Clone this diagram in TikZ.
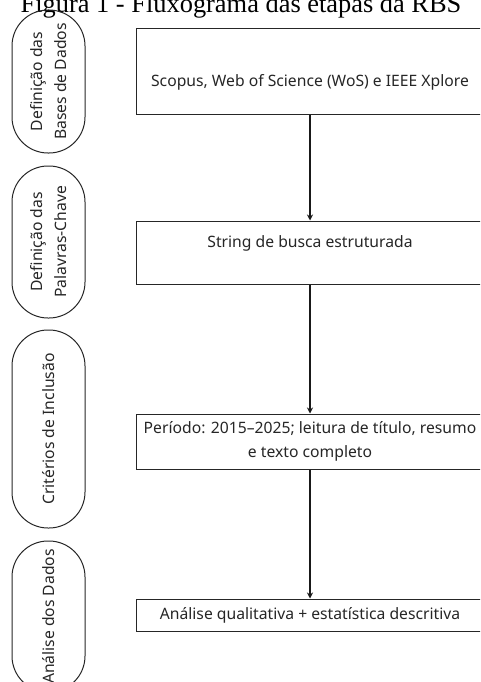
\documentclass[tikz,border=0pt]{standalone}
\usepackage{fontspec}
\setmainfont{Liberation Serif}
\newfontfamily\nsans{Noto Sans}
\usetikzlibrary{arrows.meta}

\tikzset{
  etapa/.style={draw=black!85, line width=1pt, rotate=90, minimum height=73pt,
    rounded corners=36pt, inner sep=0pt, align=center,
    font=\nsans\fontsize{15.7}{23.5}\selectfont, text=black!85},
  caixa/.style={draw=black!85, line width=1pt, minimum width=348pt, inner sep=0pt,
    align=center, font=\nsans\fontsize{15.7}{23.5}\selectfont, text=black!85},
  seta/.style={-{Stealth[length=6pt,width=6pt]}, line width=1.3pt, black!90}
}

\begin{document}
\begin{tikzpicture}[x=1pt,y=-1pt]
\useasboundingbox (0,0) rectangle (480,682);
\clip (0,0) rectangle (480,682);
%title
\node[anchor=base, font=\fontsize{26.4}{32}\selectfont] (titulo) at (241,12.5)
  {Figura 1 - Fluxograma das etapas da RBS};
%left column
\node[etapa, minimum width=143pt] (e1) at (48.5,81.5) {Definição das\\Bases de Dados};
\node[etapa, minimum width=152pt] (e2) at (48.5,242) {Definição das\\Palavras-Chave};
\node[etapa, minimum width=198pt] (e3) at (48.5,429) {Critérios de Inclusão};
\node[etapa, minimum width=151pt] (e4) at (48.5,616.5) {Análise dos Dados};
%boxes
\node[caixa, minimum height=86pt, text height=30pt, text depth=0pt] (b1) at (310,72)
  {Scopus, Web of Science (WoS) e IEEE Xplore};
\node[caixa, minimum height=63pt, text height=5pt, text depth=15pt] (b2) at (310,252.5)
  {String de busca estruturada};
\node[caixa, minimum height=55pt] (b3) at (310,441.5)
  {Período: 2015–2025; leitura de título, resumo\\e texto completo};
\node[caixa, minimum height=32pt] (b4) at (310,615)
  {Análise qualitativa + estatística descritiva};
%arrows
\draw[seta] (b1.south) -- (b2.north);
\draw[seta] (b2.south) -- (b3.north);
\draw[seta] (b3.south) -- (b4.north);
\end{tikzpicture}
\end{document}
